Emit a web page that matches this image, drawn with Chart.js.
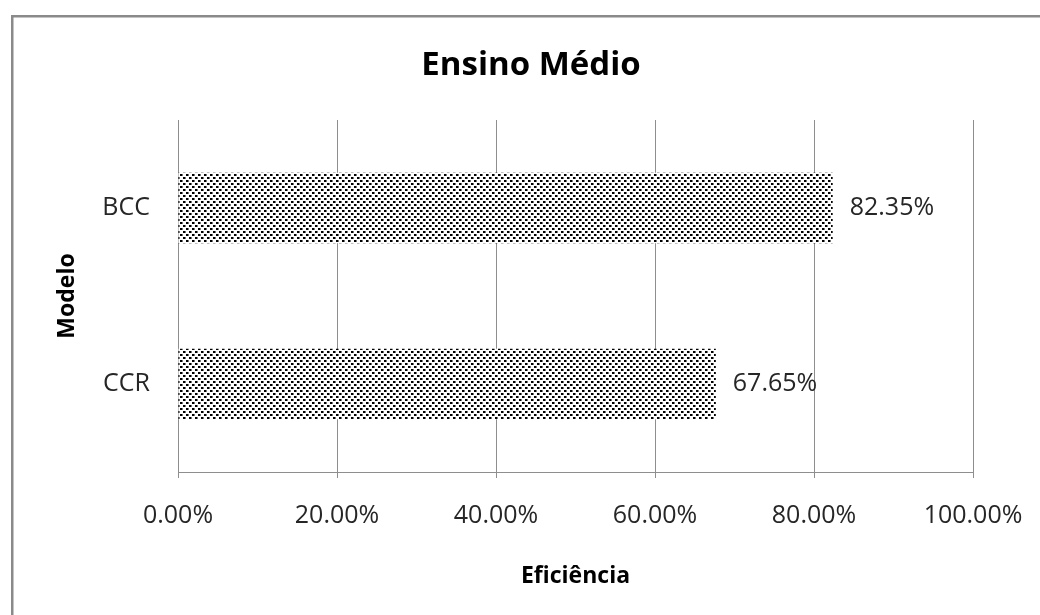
<!DOCTYPE html>
<html><head><meta charset="utf-8">
<script src="https://cdn.jsdelivr.net/npm/chart.js@4"></script>
<style>html,body{margin:0;padding:0;background:#fff;overflow:hidden}canvas{display:block}</style>
</head><body>
<canvas id="c" width="1040" height="615"></canvas>
<script>
const categories = ['BCC', 'CCR'];
const efficiency = [0.8235, 0.6765];
const xTickValues = [0, 0.2, 0.4, 0.6, 0.8, 1.0];
const chartTitle = 'Ensino Médio';
const xAxisTitle = 'Eficiência';
const yAxisTitle = 'Modelo';

const FONT = '"Open Sans", "Noto Sans", sans-serif';
const GRID = '#8e8e8e';
const TEXT = '#262626';

function makePattern() {
  const t = document.createElement('canvas');
  t.width = 6; t.height = 6;
  const g = t.getContext('2d');
  g.fillStyle = '#fff'; g.fillRect(0, 0, 6, 6);
  g.fillStyle = '#000';
  g.fillRect(0, 0, 2, 2);
  g.fillRect(3, 3, 2, 2);
  g.fillStyle = '#777';
  g.fillRect(2, 0, 1, 2);
  g.fillRect(5, 3, 1, 2);
  return document.getElementById('c').getContext('2d').createPattern(t, 'repeat');
}

const decor = {
  id: 'decor',
  beforeDraw(chart) {
    const ctx = chart.ctx;
    ctx.save();
    ctx.strokeStyle = '#8a8a8a';
    ctx.lineWidth = 2.5;
    ctx.strokeRect(12.25, 16.25, 1200, 800);
    ctx.restore();
  },
  afterDatasetsDraw(chart) {
    const ctx = chart.ctx;
    const meta = chart.getDatasetMeta(0);
    ctx.save();
    ctx.font = '25px ' + FONT;
    ctx.fillStyle = TEXT;
    ctx.textAlign = 'left';
    ctx.textBaseline = 'middle';
    meta.data.forEach((bar, i) => {
      const v = chart.data.datasets[0].data[i];
      ctx.fillText((v * 100).toFixed(2) + '%', bar.x + 17, bar.y);
    });
    ctx.restore();
  },
  afterDraw(chart) {
    const ctx = chart.ctx;
    ctx.save();
    ctx.font = 'bold 33px ' + FONT;
    ctx.fillStyle = '#000';
    ctx.textAlign = 'center';
    ctx.textBaseline = 'alphabetic';
    ctx.fillText(chartTitle, 531, 75);
    ctx.restore();
  }
};

new Chart(document.getElementById('c'), {
  type: 'bar',
  data: {
    labels: categories,
    datasets: [{
      data: efficiency,
      backgroundColor: makePattern(),
      borderWidth: 0,
      barPercentage: 0.4,
      categoryPercentage: 1.0
    }]
  },
  options: {
    indexAxis: 'y',
    responsive: false,
    animation: false,
    events: [],
    layout: { padding: { top: 120, right: 67, bottom: 0, left: 0 } },
    plugins: { legend: { display: false }, title: { display: false }, tooltip: { enabled: false } },
    scales: {
      x: {
        type: 'linear',
        min: 0, max: 1,
        afterBuildTicks: (s) => { s.ticks = xTickValues.map(v => ({ value: v })); },
        afterFit: (s) => { s.height = 143; s.paddingLeft = 0; s.paddingRight = 0; },
        ticks: {
          callback: (v) => (v * 100).toFixed(2) + '%',
          font: { family: FONT, size: 25 },
          color: TEXT,
          padding: 23,
          maxRotation: 0,
          autoSkip: false
        },
        grid: { color: GRID, lineWidth: 1, drawTicks: true, tickLength: 6, tickColor: GRID },
        border: { display: true, color: GRID, width: 1 },
        title: {
          display: true, text: xAxisTitle, color: '#000',
          font: { family: FONT, size: 23, weight: 'bold' },
          padding: { top: 0, bottom: 25 }
        }
      },
      y: {
        afterFit: (s) => { s.width = 178; s.paddingTop = 0; s.paddingBottom = 0; },
        ticks: {
          font: { family: FONT, size: 25 },
          color: TEXT,
          padding: 28
        },
        grid: { display: true, drawOnChartArea: false, drawTicks: false },
        border: { display: true, color: GRID, width: 1 },
        title: {
          display: true, text: yAxisTitle, color: '#000',
          font: { family: FONT, size: 23, weight: 'bold' },
          padding: { top: 54, bottom: 0 }
        }
      }
    }
  },
  plugins: [decor]
});
</script>
</body></html>
